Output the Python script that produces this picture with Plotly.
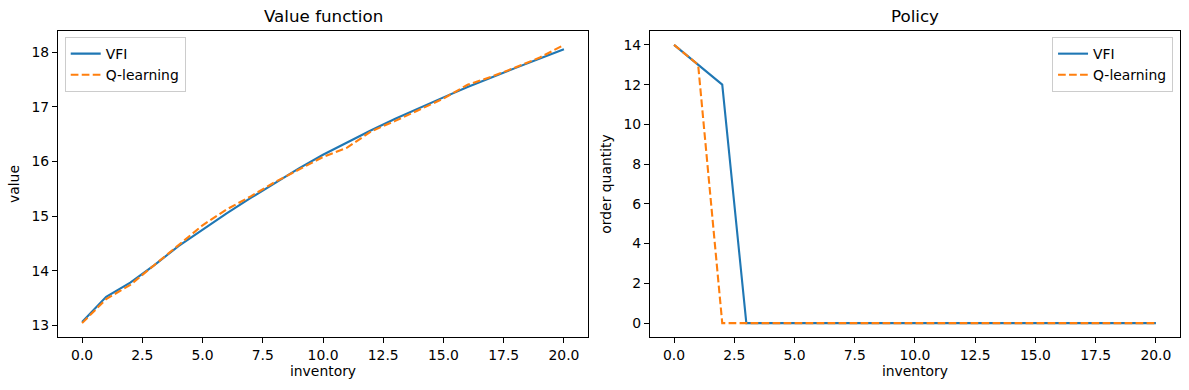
import plotly.graph_objects as go

inventory = list(range(21))
vfi_value = [13.06, 13.52, 13.78, 14.10, 14.45, 14.75, 15.05, 15.33, 15.60, 15.87, 16.12,
             16.35, 16.57, 16.78, 16.98, 17.17, 17.36, 17.54, 17.71, 17.88, 18.05]
q_value = [13.04, 13.48, 13.74, 14.10, 14.47, 14.83, 15.12, 15.36, 15.62, 15.85, 16.08,
           16.25, 16.55, 16.74, 16.95, 17.15, 17.40, 17.55, 17.72, 17.90, 18.13]
vfi_policy = [14, 13, 12] + [0] * 18
q_policy = [14, 13] + [0] * 19

BLUE = "#1f77b4"
ORANGE = "#ff7f0e"
FONT = "DejaVu Sans"
DASH = "7.7px,3.3px"

fig = go.Figure()
fig.add_trace(go.Scatter(x=inventory, y=vfi_value, mode="lines", name="VFI",
                         line=dict(color=BLUE, width=2.1), xaxis="x", yaxis="y", legend="legend"))
fig.add_trace(go.Scatter(x=inventory, y=q_value, mode="lines", name="Q-learning",
                         line=dict(color=ORANGE, width=2.1, dash=DASH), xaxis="x", yaxis="y", legend="legend"))
fig.add_trace(go.Scatter(x=inventory, y=vfi_policy, mode="lines", name="VFI",
                         line=dict(color=BLUE, width=2.1), xaxis="x2", yaxis="y2", legend="legend2"))
fig.add_trace(go.Scatter(x=inventory, y=q_policy, mode="lines", name="Q-learning",
                         line=dict(color=ORANGE, width=2.1, dash=DASH), xaxis="x2", yaxis="y2", legend="legend2"))

axis_common = dict(showline=True, linecolor="black", linewidth=1, mirror=True, ticks="outside",
                   ticklen=5, tickwidth=1, tickcolor="black", showgrid=False, zeroline=False,
                   tickfont=dict(family=FONT, size=13.9, color="black"),
                   title_font=dict(family=FONT, size=13.9, color="black"))

legend_common = dict(font=dict(family=FONT, size=13.9, color="black"), bgcolor="rgba(255,255,255,0.8)",
                     bordercolor="#cccccc", borderwidth=1, tracegroupgap=0, itemwidth=30)

xticks = [0, 2.5, 5, 7.5, 10, 12.5, 15, 17.5, 20]
xticktext = ["0.0", "2.5", "5.0", "7.5", "10.0", "12.5", "15.0", "17.5", "20.0"]

fig.update_layout(
    width=1189, height=390,
    margin=dict(l=58, r=9, t=31, b=53),
    plot_bgcolor="white", paper_bgcolor="white",
    font=dict(family=FONT, size=13.9, color="black"),
    xaxis=dict(domain=[0, 0.4724], range=[-1, 21], tickvals=xticks, ticktext=xticktext,
               title=dict(text="inventory", standoff=4), anchor="y", **axis_common),
    yaxis=dict(domain=[0, 1], range=[12.786, 18.385], tickvals=[13, 14, 15, 16, 17, 18],
               title=dict(text="value", standoff=8), anchor="x", **axis_common),
    xaxis2=dict(domain=[0.5276, 1], range=[-1, 21], tickvals=xticks, ticktext=xticktext,
                title=dict(text="inventory", standoff=4), anchor="y2", **axis_common),
    yaxis2=dict(domain=[0, 1], range=[-0.7, 14.7], tickvals=[0, 2, 4, 6, 8, 10, 12, 14],
                title=dict(text="order quantity", standoff=8), anchor="x2", **axis_common),
    legend=dict(x=0.006, y=0.98, xanchor="left", yanchor="top", **legend_common),
    legend2=dict(x=0.9938, y=0.98, xanchor="right", yanchor="top", **legend_common),
    showlegend=True,
    annotations=[
        dict(text="Value function", x=0.2362, y=1, xref="paper", yref="paper", xanchor="center",
             yanchor="middle", yshift=15, showarrow=False, font=dict(family=FONT, size=16.7, color="black")),
        dict(text="Policy", x=0.7638, y=1, xref="paper", yref="paper", xanchor="center",
             yanchor="middle", yshift=15, showarrow=False, font=dict(family=FONT, size=16.7, color="black")),
    ],
)

fig.write_html("out.html", config={"displayModeBar": False},
               post_script="document.body.style.margin='0';")
